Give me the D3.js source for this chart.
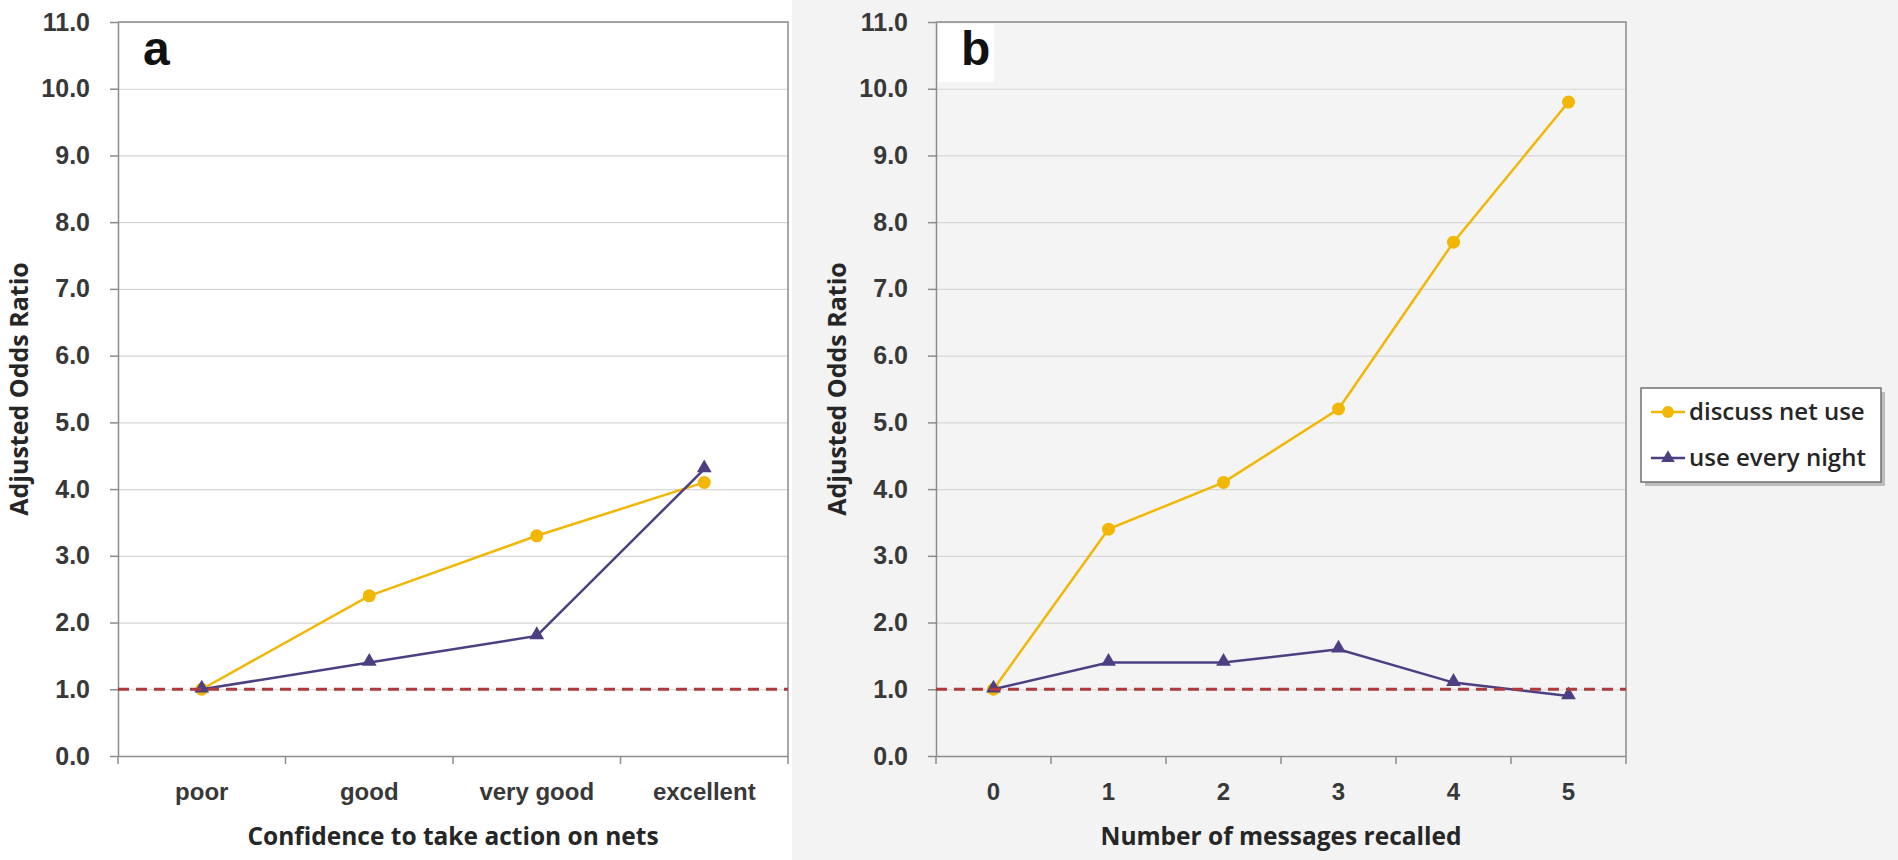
<!DOCTYPE html>
<html>
<head>
<meta charset="utf-8">
<script src="https://cdn.jsdelivr.net/npm/d3@7"></script>
<style>
  html, body { margin: 0; padding: 0; background: #fff; }
  svg { display: block; font-family: 'Open Sans', Lato, sans-serif; }
</style>
</head>
<body>
<svg id="chart" width="1898" height="860"></svg>
<script>
// panel a
const confLevels = ['poor', 'good', 'very good', 'excellent'];
const confDiscuss = [1.0, 2.4, 3.3, 4.1];
const confNightly = [1.0, 1.4, 1.8, 4.3];

// panel b
const msgCounts = ['0', '1', '2', '3', '4', '5'];
const msgDiscuss = [1.0, 3.4, 4.1, 5.2, 7.7, 9.8];
const msgNightly = [1.0, 1.4, 1.4, 1.6, 1.1, 0.9];

const yTicks = [0, 1, 2, 3, 4, 5, 6, 7, 8, 9, 10, 11];
const refLine = 1.0;
const seriesNames = ['discuss net use', 'use every night'];

const gold = '#f2b705';
const purple = '#4e3f82';

const svg = d3.select('#chart');

// grey backdrop of the right-hand figure
svg.append('rect')
  .attr('x', 792).attr('y', 0)
  .attr('width', 1898 - 792).attr('height', 860)
  .attr('fill', '#f3f3f3');

const plotTop = 22, plotBottom = 756;

function drawPanel(opts) {
  const { left, right, cats, discuss, nightly, letter, xTitle, bg } = opts;

  const x = d3.scaleBand().domain(cats).range([left, right]).padding(0);
  const y = d3.scaleLinear().domain([0, 11]).range([plotBottom, plotTop]);
  const g = svg.append('g');

  g.append('rect')
    .attr('x', left).attr('y', plotTop)
    .attr('width', right - left).attr('height', plotBottom - plotTop)
    .attr('fill', bg);

  // gridlines
  g.append('g')
    .attr('transform', 'translate(' + left + ',0)')
    .call(d3.axisLeft(y).tickValues(yTicks).tickSize(-(right - left)).tickFormat(''))
    .call(a => a.select('.domain').remove())
    .call(a => a.selectAll('line').attr('stroke', '#d6d6d6').attr('stroke-width', 1.2));

  // frame (top + right)
  g.append('path')
    .attr('d', 'M' + left + ',' + plotTop + 'H' + right + 'V' + plotBottom)
    .attr('fill', 'none').attr('stroke', '#8c8c8c').attr('stroke-width', 1.5);

  // y axis
  g.append('g')
    .attr('transform', 'translate(' + left + ',0)')
    .call(d3.axisLeft(y).tickValues(yTicks).tickFormat(d3.format('.1f'))
      .tickSize(8).tickSizeOuter(0).tickPadding(20))
    .call(a => a.select('.domain').attr('stroke', '#8c8c8c').attr('stroke-width', 1.5))
    .call(a => a.selectAll('line').attr('stroke', '#8c8c8c').attr('stroke-width', 1.5))
    .call(a => a.selectAll('text')
      .attr('fill', '#383838').style('font-size', '25px').style('font-weight', 600));

  // x axis: labels at band centres
  g.append('g')
    .attr('transform', 'translate(0,' + plotBottom + ')')
    .call(d3.axisBottom(x).tickSize(0).tickSizeOuter(0).tickPadding(27))
    .call(a => a.select('.domain').attr('stroke', '#8c8c8c').attr('stroke-width', 1.5))
    .call(a => a.selectAll('text')
      .attr('fill', '#383838').style('font-size', '24px').style('font-weight', 600));

  // x tick marks at band edges
  const edges = cats.map(c => x(c)).concat([right]);
  g.selectAll('.edge').data(edges).enter().append('line')
    .attr('x1', d => d).attr('x2', d => d)
    .attr('y1', plotBottom).attr('y2', plotBottom + 8)
    .attr('stroke', '#8c8c8c').attr('stroke-width', 1.5);

  // axis titles
  g.append('text')
    .attr('x', (left + right) / 2).attr('y', 845)
    .attr('text-anchor', 'middle')
    .style('font-size', '24.5px').style('font-weight', 700)
    .attr('fill', '#262626')
    .text(xTitle);

  g.append('text')
    .attr('transform', 'translate(' + (left - 90) + ',' + ((plotTop + plotBottom) / 2) + ') rotate(-90)')
    .attr('text-anchor', 'middle')
    .style('font-size', '25px').style('font-weight', 700)
    .attr('fill', '#262626')
    .text('Adjusted Odds Ratio');

  // panel letter
  if (bg !== '#ffffff') {
    g.append('rect')
      .attr('x', left + 2).attr('y', plotTop + 2)
      .attr('width', 56).attr('height', 58)
      .attr('fill', '#ffffff');
  }
  g.append('text')
    .attr('x', left + 25).attr('y', plotTop + 43)
    .style('font-family', "'Liberation Sans', Arial, sans-serif")
    .style('font-size', '48px').style('font-weight', 700)
    .attr('fill', '#111')
    .text(letter);

  const cx = (d, i) => x(cats[i]) + x.bandwidth() / 2;
  const line = d3.line().x(cx).y(d => y(d));

  // discuss net use
  g.append('path').datum(discuss)
    .attr('d', line).attr('fill', 'none')
    .attr('stroke', gold).attr('stroke-width', 2.5);
  g.selectAll('.dot').data(discuss).enter().append('circle')
    .attr('cx', cx).attr('cy', d => y(d)).attr('r', 6.5)
    .attr('fill', gold);

  // use every night
  g.append('path').datum(nightly)
    .attr('d', line).attr('fill', 'none')
    .attr('stroke', purple).attr('stroke-width', 2.5);
  g.selectAll('.tri').data(nightly).enter().append('path')
    .attr('d', d3.symbol().type(d3.symbolTriangle).size(95))
    .attr('transform', (d, i) => 'translate(' + cx(d, i) + ',' + (y(d) - 1) + ')')
    .attr('fill', purple);

  // reference line at OR = 1
  g.append('line')
    .attr('x1', left).attr('x2', right)
    .attr('y1', y(refLine)).attr('y2', y(refLine))
    .attr('stroke', '#ad3a3d').attr('stroke-width', 2.8)
    .attr('stroke-dasharray', '11,7');
}

drawPanel({
  left: 118, right: 788, cats: confLevels,
  discuss: confDiscuss, nightly: confNightly,
  letter: 'a', xTitle: 'Confidence to take action on nets', bg: '#ffffff'
});

drawPanel({
  left: 936, right: 1626, cats: msgCounts,
  discuss: msgDiscuss, nightly: msgNightly,
  letter: 'b', xTitle: 'Number of messages recalled', bg: '#f4f4f4'
});

// legend
const legend = svg.append('g').attr('transform', 'translate(1641,388)');
legend.append('rect')
  .attr('x', 4).attr('y', 4).attr('width', 240).attr('height', 94)
  .attr('fill', '#9a9a9a').attr('opacity', 0.6);
legend.append('rect')
  .attr('width', 240).attr('height', 94)
  .attr('fill', '#ffffff').attr('stroke', '#707070').attr('stroke-width', 1.5);

const legColors = [gold, purple];
const legRows = legend.selectAll('.row').data(seriesNames).enter().append('g')
  .attr('transform', (d, i) => 'translate(0,' + (24 + i * 46) + ')');
legRows.append('line')
  .attr('x1', 10).attr('x2', 44)
  .attr('stroke', (d, i) => legColors[i]).attr('stroke-width', 2.5);
legRows.append('path')
  .attr('d', (d, i) => d3.symbol().type(i === 0 ? d3.symbolCircle : d3.symbolTriangle).size(i === 0 ? 110 : 80)())
  .attr('transform', 'translate(27,0)')
  .attr('fill', (d, i) => legColors[i]);
legRows.append('text')
  .attr('x', 48).attr('y', 8)
  .style('font-size', '24px').style('font-weight', 600)
  .attr('fill', '#262626')
  .text(d => d);
</script>
</body>
</html>
